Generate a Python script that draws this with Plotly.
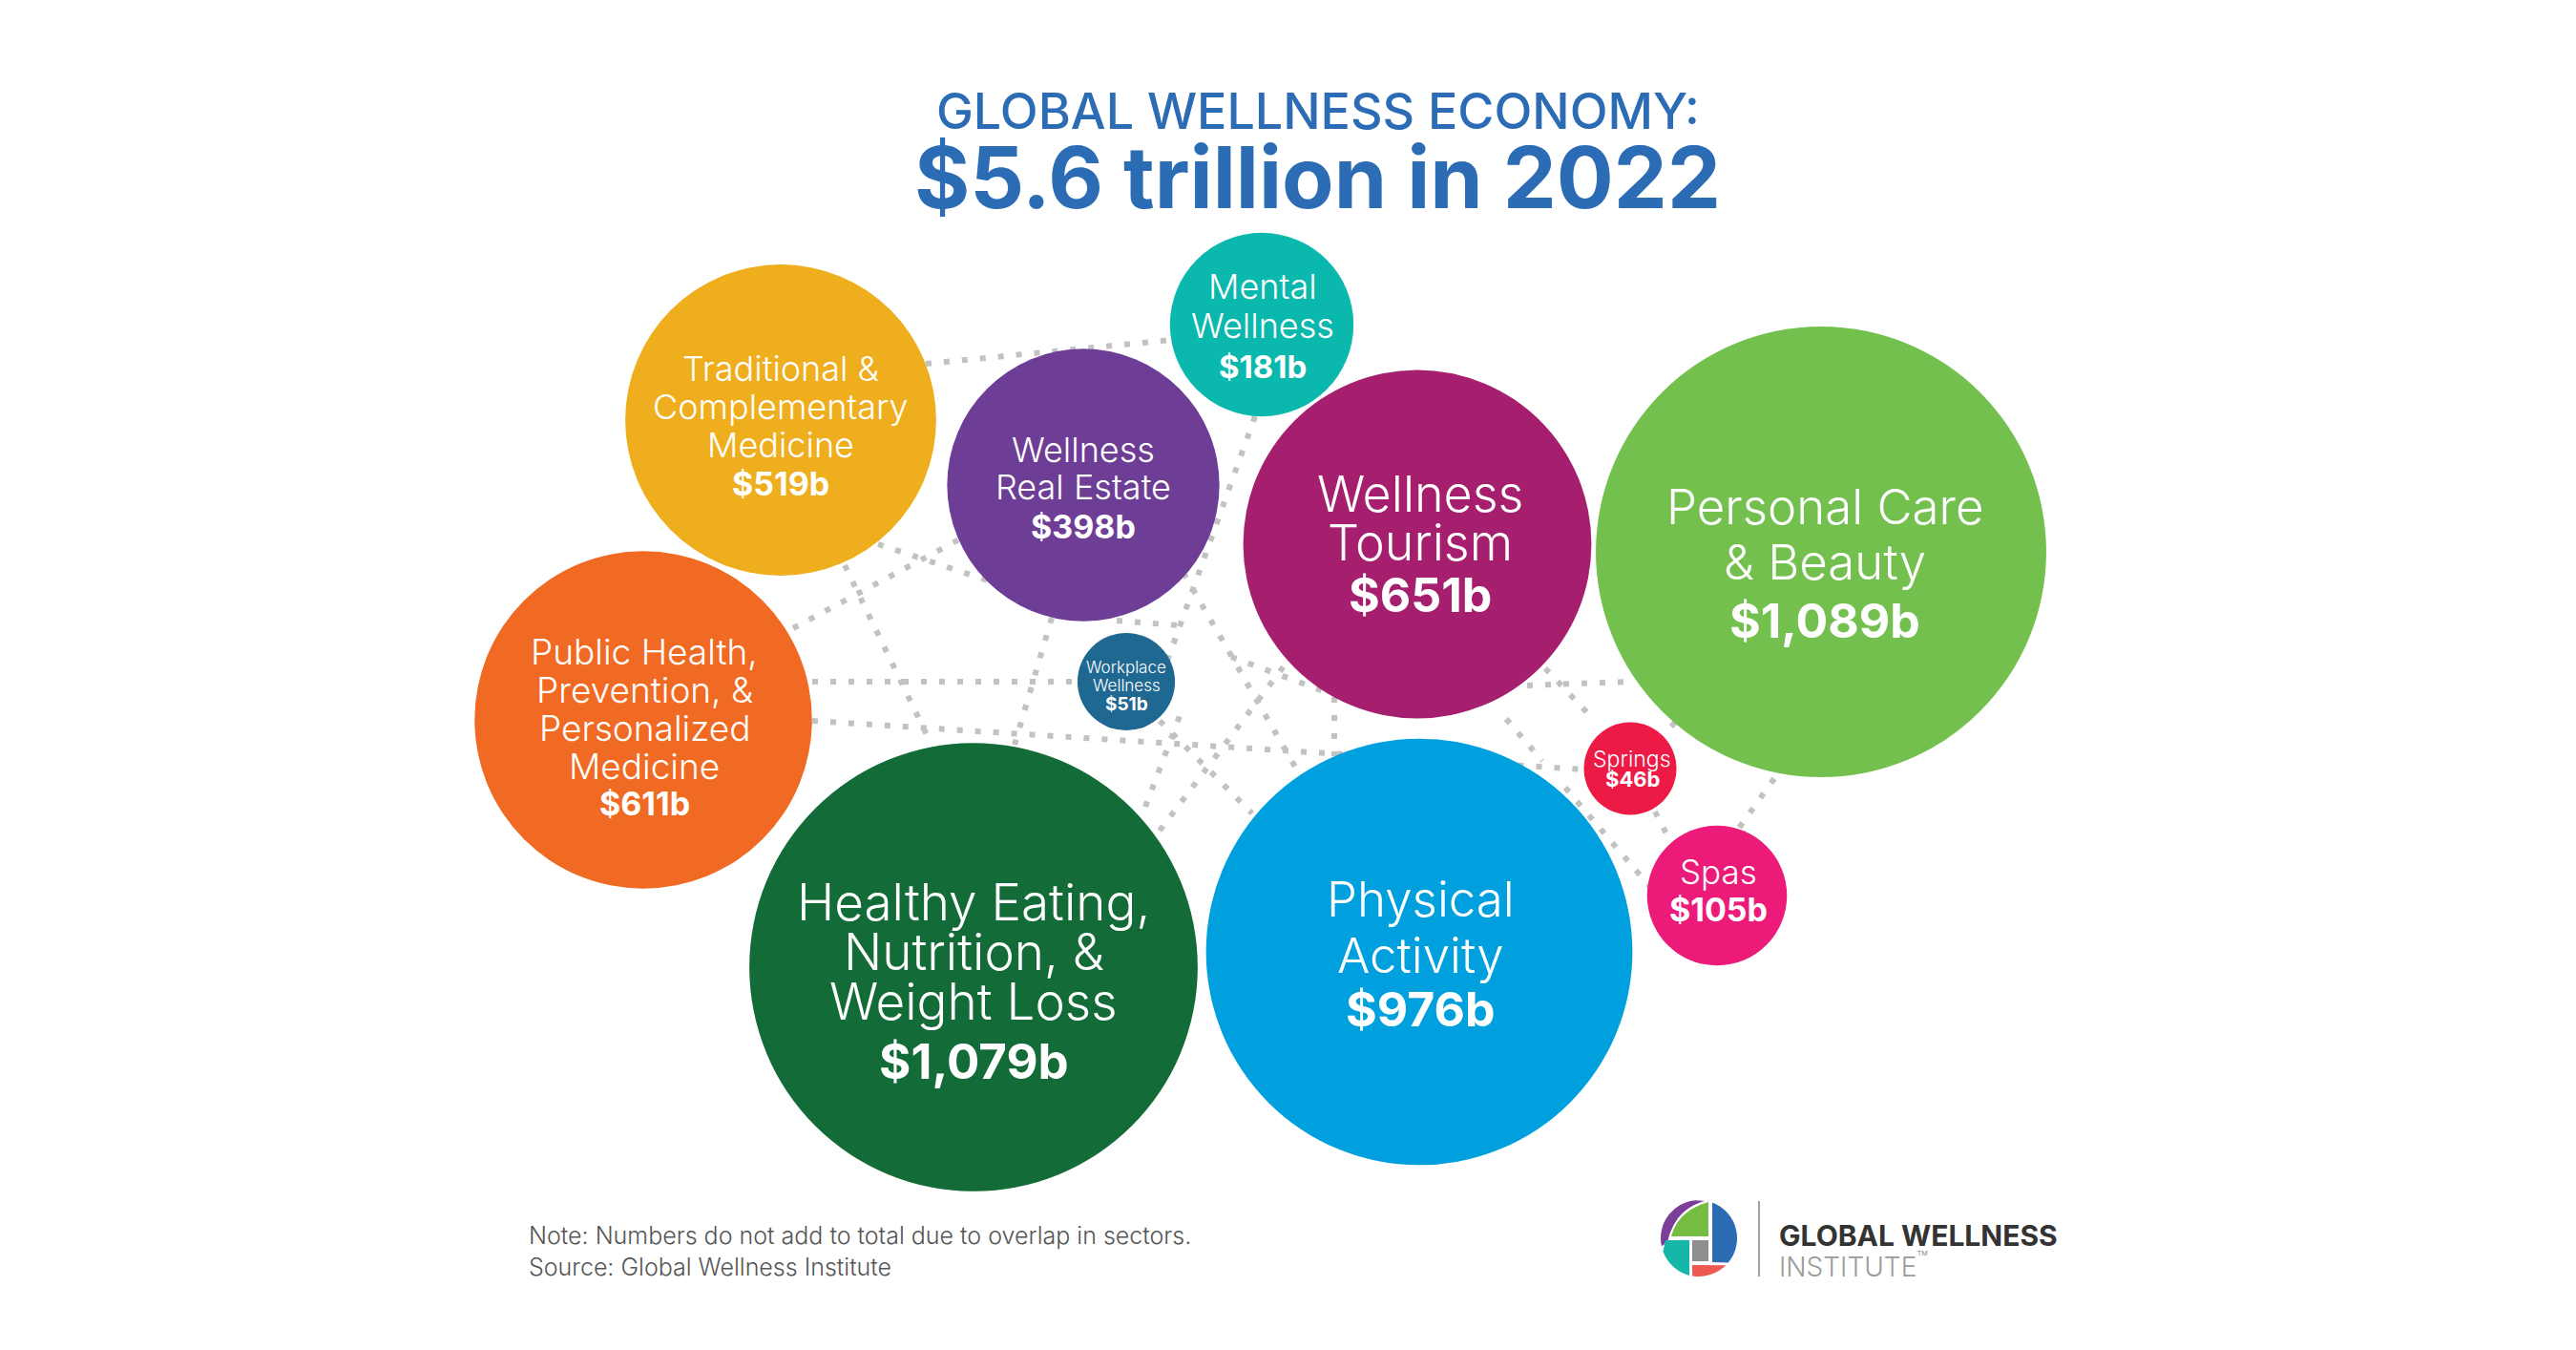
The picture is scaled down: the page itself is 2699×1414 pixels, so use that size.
import math
import plotly.graph_objects as go

# ---------------- data ----------------
sectors = ["Traditional & Complementary Medicine", "Mental Wellness", "Wellness Real Estate",
           "Wellness Tourism", "Personal Care & Beauty", "Public Health, Prevention, & Personalized Medicine",
           "Workplace Wellness", "Healthy Eating, Nutrition, & Weight Loss", "Physical Activity",
           "Springs", "Spas"]
values_bn = [519, 181, 398, 651, 1089, 611, 51, 1079, 976, 46, 105]
value_labels = ["$519b", "$181b", "$398b", "$651b", "$1,089b", "$611b", "$51b", "$1,079b", "$976b", "$46b", "$105b"]
name_lines = [["Traditional &", "Complementary", "Medicine"],
              ["Mental", "Wellness"],
              ["Wellness", "Real Estate"],
              ["Wellness", "Tourism"],
              ["Personal Care", "& Beauty"],
              ["Public Health,", "Prevention, &", "Personalized", "Medicine"],
              ["Workplace", "Wellness"],
              ["Healthy Eating,", "Nutrition, &", "Weight Loss"],
              ["Physical", "Activity"],
              ["Springs"],
              ["Spas"]]

# ---------------- layout of the bubbles (pixel space) ----------------
bubble_x = [818, 1322, 1135, 1485, 1908, 674, 1180, 1020, 1487, 1708, 1799]
bubble_y = [440, 340, 508, 570, 578, 754, 714, 1013, 997, 805, 938]
colors = ["#EFAE1D", "#0BB8AD", "#6E3D96", "#A61F6F", "#74C04F", "#F06A23",
          "#1F6891", "#136C37", "#00A0DE", "#EC1A45", "#EC1B7A"]
name_fs = [36, 36, 36, 52, 51, 37, 17, 53, 51, 23, 35]
value_fs = [34, 33, 34, 50, 50, 34, 19, 51, 50, 22, 34]
first_y = [386, 300, 471, 517, 530, 682, 699, 945, 941, 795, 913]
line_gap = [40, 41, 39, 51, 58, 40, 19, 52, 59, 0, 0]
value_gap = [40, 43, 41, 55, 62, 39, 19, 62, 57, 21, 39]
label_x = [818, 1323, 1135, 1488, 1912, 675, 1180, 1020, 1488, 1710, 1800]

# decorative dotted connectors (pixel space)
connectors = [
    (970, 381, 1228, 356), (920, 570, 1035, 608), (831, 658, 1005, 565),
    (885, 592, 976, 780), (851, 714, 1129, 714), (851, 755, 1660, 806),
    (1102, 647, 1063, 780), (1315, 436, 1222, 695), (1240, 600, 1358, 805),
    (1215, 870, 1345, 698), (1200, 845, 1236, 750), (1215, 755, 1312, 852),
    (1290, 688, 1395, 727), (1170, 650, 1235, 655), (1600, 718, 1705, 714),
    (1619, 700, 1671, 755), (1751, 761, 1770, 740), (1870, 800, 1820, 870),
    (1640, 825, 1728, 928), (1734, 850, 1752, 885), (1398, 730, 1398, 792),
    (1578, 753, 1616, 797),
]

W, H = 2699, 1414
OFF = 8          # page body margin
K = 7.15         # px radius per sqrt(billion)

fig = go.Figure()

cx, cy = [], []
for x0, y0, x1, y1 in connectors:
    cx += [x0, x1, None]
    cy += [y0, y1, None]
fig.add_trace(go.Scatter(x=cx, y=cy, mode="lines",
                         line=dict(color="#C2C2C2", width=6, dash="6px,13px"),
                         hoverinfo="skip", showlegend=False))

fig.add_trace(go.Scatter(
    x=bubble_x, y=bubble_y, mode="markers",
    marker=dict(size=values_bn, sizemode="area", sizeref=1 / (2 * K * K),
                color=colors, opacity=1, line=dict(width=0)),
    text=sectors, hoverinfo="text", showlegend=False))

ann = []
FONT = "Inter"
for i in range(len(sectors)):
    y = first_y[i]
    for j, ln in enumerate(name_lines[i]):
        ann.append(dict(x=label_x[i], y=y + j * line_gap[i], text=ln, showarrow=False,
                        xanchor="center", yanchor="middle",
                        font=dict(family=FONT, size=name_fs[i], color="white", weight=300)))
    vy = y + (len(name_lines[i]) - 1) * line_gap[i] + value_gap[i]
    ann.append(dict(x=label_x[i], y=vy, text=value_labels[i], showarrow=False,
                    xanchor="center", yanchor="middle",
                    font=dict(family=FONT, size=value_fs[i], color="white", weight=700)))

# titles
ann.append(dict(x=1381, y=116, text="GLOBAL WELLNESS ECONOMY:", showarrow=False,
                xanchor="center", yanchor="middle",
                font=dict(family=FONT, size=52, color="#2C6CB4", weight=500)))
ann.append(dict(x=1380, y=185, text="$5.6 trillion in 2022", showarrow=False,
                xanchor="center", yanchor="middle",
                font=dict(family=FONT, size=89, color="#2C6CB4", weight=700)))
# notes
ann.append(dict(x=552, y=1294, text="Note: Numbers do not add to total due to overlap in sectors.",
                showarrow=False, xanchor="left", yanchor="middle",
                font=dict(family=FONT, size=25, color="#555555", weight=300)))
ann.append(dict(x=552, y=1327, text="Source: Global Wellness Institute",
                showarrow=False, xanchor="left", yanchor="middle",
                font=dict(family=FONT, size=25, color="#555555", weight=300)))
# logo text
ann.append(dict(x=1862, y=1294, text="GLOBAL WELLNESS", showarrow=False, xanchor="left", yanchor="middle",
                font=dict(family=FONT, size=30, color="#333333", weight=700)))
ann.append(dict(x=1862, y=1325, text="INSTITUTE<sup>™</sup>", showarrow=False, xanchor="left", yanchor="middle",
                font=dict(family=FONT, size=28, color="#9A9A9A", weight=300)))

# ---- logo (approximate) ----
LC, LR = (1780, 1297), 40


def pt(a):
    r = math.radians(a)
    return LC[0] + LR * math.cos(r), LC[1] + LR * math.sin(r)


def arc(a0, a1, n=4):
    s = ""
    step = (a1 - a0) / n
    for k in range(n):
        b0, b1 = a0 + k * step, a0 + (k + 1) * step
        m = math.radians((b0 + b1) / 2)
        d = LR / math.cos(math.radians(step / 2))
        qx, qy = LC[0] + d * math.cos(m), LC[1] + d * math.sin(m)
        ex, ey = pt(b1)
        s += f" Q {qx:.1f},{qy:.1f} {ex:.1f},{ey:.1f}"
    return s


def mv(a):
    x, y = pt(a)
    return f"M {x:.1f},{y:.1f}"


purple = mv(168) + arc(168, 265) + " L 1786,1258 Q 1755,1266 1747,1301 Z"
green = "M 1790,1259 L 1790,1295 L 1751,1295 Q 1758,1268 1790,1259 Z"
blue = mv(-69.5) + arc(-69.5, 39.8) + " L 1794,1322 Z"
teal = "M 1745,1299 L 1770,1299 L 1770,1336" + arc(104, 160, 2) + " Z"
coral = "M 1773,1325" + " L %.1f,%.1f" % pt(45) + arc(45, 100, 2) + " Z"

shapes = [
    dict(type="path", path=purple, fillcolor="#7B3F98", line=dict(width=0)),
    dict(type="path", path=green, fillcolor="#76BC43", line=dict(width=0)),
    dict(type="path", path=blue, fillcolor="#2C6CB4", line=dict(width=0)),
    dict(type="path", path=teal, fillcolor="#16B6A8", line=dict(width=0)),
    dict(type="rect", x0=1773, x1=1790, y0=1299, y1=1321, fillcolor="#8E8E90", line=dict(width=0)),
    dict(type="path", path=coral, fillcolor="#EE5A52", line=dict(width=0)),
    dict(type="line", x0=1843, x1=1843, y0=1258, y1=1337, line=dict(color="#A0A0A0", width=2)),
]
for s in shapes:
    s.update(xref="x", yref="y", layer="above")

fig.update_layout(
    width=W - 2 * OFF, height=H - 2 * OFF, margin=dict(l=0, r=0, t=0, b=0),
    paper_bgcolor="white", plot_bgcolor="white",
    xaxis=dict(range=[OFF, W - OFF], visible=False, fixedrange=True),
    yaxis=dict(range=[H - OFF, OFF], visible=False, fixedrange=True),
    annotations=ann, shapes=shapes, showlegend=False,
)
fig.write_html("out.html")
